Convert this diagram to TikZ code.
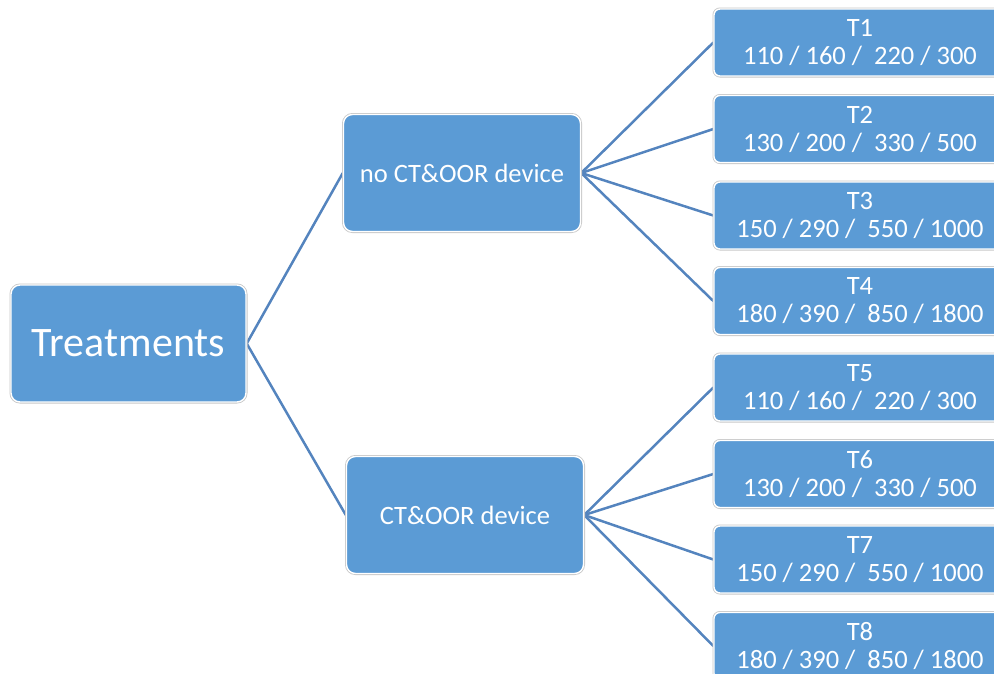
\documentclass[tikz,border=0pt]{standalone}
\usepackage{fontspec}
\setmainfont{Carlito}
\usetikzlibrary{backgrounds}
\definecolor{boxblue}{RGB}{91,155,213}
\definecolor{lineblue}{RGB}{84,132,190}
\begin{document}
\begin{tikzpicture}[x=1pt,y=-1pt,
  box/.style={rectangle, rounded corners=9pt, fill=boxblue, draw=white, line width=1.4pt,
    preaction={draw=black!22, line width=3pt}, text=white, inner sep=0pt, align=center},
  big/.style={box, minimum width=235pt, minimum height=117pt, font=\fontsize{42}{48}\selectfont},
  mid/.style={box, minimum width=237pt, minimum height=117pt, font=\fontsize{26.5}{30}\selectfont},
  leaf/.style={box, rounded corners=6pt, minimum width=292pt, minimum height=67pt, font=\fontsize{26.5}{28}\selectfont},
  conn/.style={draw=lineblue, line width=2.5pt}]
\useasboundingbox (0,0) rectangle (994,673);
\clip (0,0) rectangle (994,673);
\node[big] (treat) at (128.5,343.5) {Treatments};
\node[mid] (noct) at (462,173) {no CT\&OOR device};
\node[mid] (ct) at (465,515) {CT\&OOR device};
\node[leaf] (t1) at (860,42.5) {T1\\110 / 160 /\ \ 220 / 300};
\node[leaf] (t2) at (860,129) {T2\\130 / 200 /\ \ 330 / 500};
\node[leaf] (t3) at (860,215.5) {T3\\150 / 290 /\ \ 550 / 1000};
\node[leaf] (t4) at (860,301) {T4\\180 / 390 /\ \ 850 / 1800};
\node[leaf] (t5) at (860,387.5) {T5\\110 / 160 /\ \ 220 / 300};
\node[leaf] (t6) at (860,474) {T6\\130 / 200 /\ \ 330 / 500};
\node[leaf] (t7) at (860,559.5) {T7\\150 / 290 /\ \ 550 / 1000};
\node[leaf] (t8) at (860,646) {T8\\180 / 390 /\ \ 850 / 1800};
\begin{pgfonlayer}{background}
\draw[conn] (treat.east) -- (noct.west);
\draw[conn] (treat.east) -- (ct.west);
\foreach \t in {t1,t2,t3,t4} \draw[conn] (noct.east) -- (\t.west);
\foreach \t in {t5,t6,t7,t8} \draw[conn] (ct.east) -- (\t.west);
\end{pgfonlayer}
\end{tikzpicture}
\end{document}
